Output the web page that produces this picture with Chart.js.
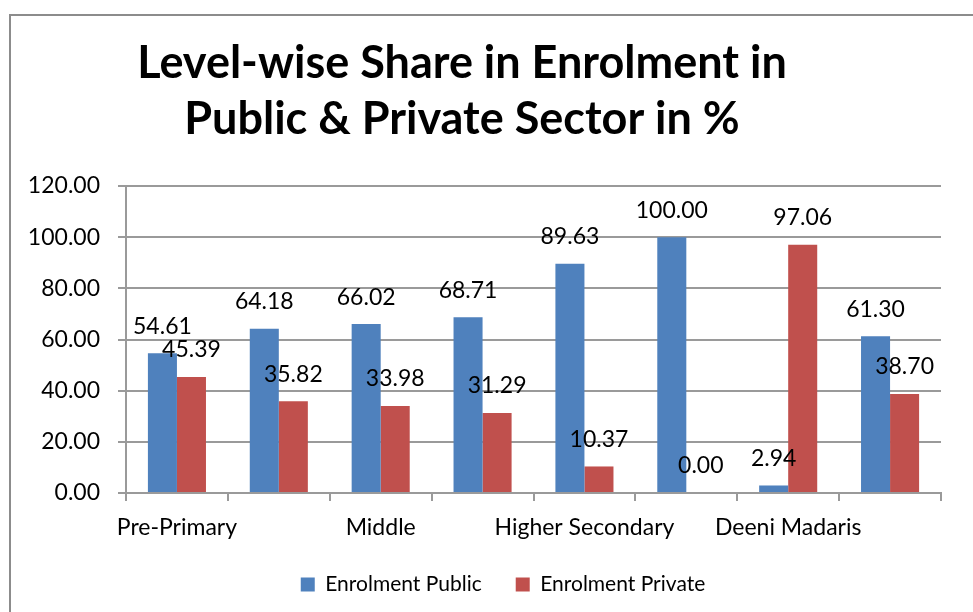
<!DOCTYPE html>
<html>
<head>
<meta charset="utf-8">
<title>Level-wise Share in Enrolment</title>
<script src="https://cdn.jsdelivr.net/npm/chart.js@4.4.1/dist/chart.umd.min.js"></script>
<style>
  html, body { margin: 0; padding: 0; background: #fff; overflow: hidden; width: 973px; height: 612px; }
  #frame { position: absolute; left: 9px; top: 14px; width: 1200px; height: 800px; border: 2px solid #8c8c8c; }
  #chart { position: absolute; left: 0; top: 0; }
</style>
</head>
<body>
<div id="frame"></div>
<canvas id="chart" width="1030" height="612"></canvas>
<script>
const categories = ['Pre-Primary', 'Primary', 'Middle', 'High', 'Higher Secondary', 'Degree Colleges', 'Deeni Madaris', 'Total'];
const publicShare = [54.61, 64.18, 66.02, 68.71, 89.63, 100.00, 2.94, 61.30];
const privateShare = [45.39, 35.82, 33.98, 31.29, 10.37, 0.00, 97.06, 38.70];
const seriesNames = ['Enrolment Public', 'Enrolment Private'];
const titleLines = ['Level-wise Share in Enrolment in', 'Public & Private Sector in %'];

const FONT = 'Lato';
const gridColor = '#9a9a9a';

// title sits left of centre in the original, so draw it ourselves
const titlePlugin = {
  id: 'offsetTitle',
  afterDraw(chart) {
    const ctx = chart.ctx;
    ctx.save();
    ctx.font = `bold 45px ${FONT}`;
    ctx.fillStyle = '#000';
    ctx.textAlign = 'center';
    ctx.textBaseline = 'middle';
    titleLines.forEach((line, i) => ctx.fillText(line, 462, 63 + i * 56));
    ctx.restore();
  }
};

// value labels above each bar
const valueLabels = {
  id: 'valueLabels',
  afterDatasetsDraw(chart) {
    const ctx = chart.ctx;
    ctx.save();
    ctx.font = `23px ${FONT}`;
    ctx.fillStyle = '#000';
    ctx.textAlign = 'center';
    ctx.textBaseline = 'middle';
    chart.data.datasets.forEach((ds, i) => {
      chart.getDatasetMeta(i).data.forEach((bar, j) => {
        ctx.fillText(ds.data[j].toFixed(2), bar.x, bar.y - 27);
      });
    });
    ctx.restore();
  }
};

new Chart(document.getElementById('chart'), {
  type: 'bar',
  data: {
    labels: categories,
    datasets: [
      { label: seriesNames[0], data: publicShare, backgroundColor: '#4f81bd' },
      { label: seriesNames[1], data: privateShare, backgroundColor: '#c0504d' }
    ]
  },
  options: {
    responsive: false,
    animation: false,
    devicePixelRatio: 1,
    datasets: { bar: { barPercentage: 1, categoryPercentage: 0.57 } },
    layout: { padding: { top: 186, left: 10, right: 34, bottom: 7 } },
    plugins: {
      title: { display: false },
      tooltip: { enabled: false },
      legend: {
        position: 'bottom',
        labels: {
          boxWidth: 14,
          boxHeight: 14,
          padding: 34,
          color: '#000',
          font: { family: FONT, size: 21 }
        }
      }
    },
    scales: {
      x: {
        grid: { offset: true, drawOnChartArea: false, tickLength: 8, color: gridColor, lineWidth: 2 },
        border: { color: gridColor, width: 2 },
        ticks: {
          autoSkip: false,
          maxRotation: 0,
          padding: 13,
          color: '#000',
          font: { family: FONT, size: 23 },
          callback: function (value, index) {
            return index % 2 === 0 ? this.getLabelForValue(value) : '';
          }
        },
        afterFit(scale) { scale.height = 47; }
      },
      y: {
        min: 0,
        max: 120,
        grid: { color: gridColor, lineWidth: 2, tickLength: 8 },
        border: { color: gridColor, width: 2 },
        ticks: {
          stepSize: 20,
          padding: 18,
          color: '#000',
          font: { family: FONT, size: 23 },
          callback: v => v.toFixed(2)
        },
        afterFit(scale) { scale.width = 116; }
      },
      // empty spacer on the right so the legend centres where the original's does
      spacer: {
        type: 'linear',
        position: 'right',
        grid: { display: false },
        border: { display: false },
        ticks: { display: false },
        afterFit(scale) { scale.width = 55; }
      }
    }
  },
  plugins: [valueLabels, titlePlugin]
});
</script>
</body>
</html>
